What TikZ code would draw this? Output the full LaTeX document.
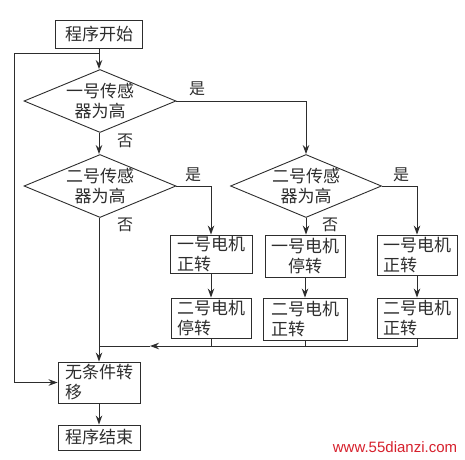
\documentclass[tikz,border=0pt]{standalone}
\usepackage{fontspec}
\newfontfamily\cjk{Noto Sans CJK SC}
\newfontfamily\wm{Liberation Sans}
\usetikzlibrary{shapes.geometric,arrows.meta}
\definecolor{wmred}{RGB}{214,32,44}
\definecolor{ink}{RGB}{45,45,45}
\begin{document}
\begin{tikzpicture}[x=1pt,y=-1pt,
  ln/.style={draw=ink,line width=0.9pt},
  arr/.style={ln,-{Stealth[length=9pt,width=6.5pt]}},
  box/.style={rectangle,draw=ink,line width=0.9pt,inner sep=0pt,
    font=\cjk\fontsize{17}{20}\selectfont,text=ink,minimum width=82pt,minimum height=40pt},
  dia/.style={diamond,aspect=2.4,draw=ink,line width=0.9pt,inner sep=-4pt,
    minimum width=152pt,minimum height=63pt,align=center,
    font=\cjk\fontsize{17}{20}\selectfont,text=ink},
  lbl/.style={font=\cjk\fontsize{16}{16}\selectfont,text=ink,inner sep=0pt}]
\useasboundingbox (0,0) rectangle (465,459);
% nodes
\node[box,minimum width=87pt,minimum height=28pt] (s) at (99,34) {程序开始};
\node[dia] (d1) at (100,101) {一号传感\\器为高};
\node[dia] (d2) at (100,186) {二号传感\\器为高};
\node[dia,minimum width=151pt] (d3) at (306,186) {二号传感\\器为高};
\node[box,align=left,minimum height=38pt] (a) at (211,254) {一号电机\\正转};
\node[box,align=center,minimum width=80pt,minimum height=42pt] (b) at (305,256) {一号电机\\停转};
\node[box,align=left,minimum width=80pt] (c) at (417,255) {一号电机\\正转};
\node[box,align=left,minimum width=80pt] (dd) at (211,318) {二号电机\\停转};
\node[box,align=left,minimum width=84pt,minimum height=42pt] (e) at (305,319) {二号电机\\正转};
\node[box,align=left,minimum width=80pt] (f) at (417,318) {二号电机\\正转};
\node[box,align=left,minimum height=41pt] (u) at (99,382.5) {无条件转\\移};
\node[box,minimum height=25pt] (t) at (99,437.5) {程序结束};
% labels
\node[lbl] (y1) at (197,89) {是};
\node[lbl] (n1) at (125,141) {否};
\node[lbl] (y2) at (193,175) {是};
\node[lbl] (n2) at (125,225) {否};
\node[lbl] (y3) at (401,175) {是};
\node[lbl] (n3) at (330,225) {否};
% coordinates
\coordinate (j0) at (99,53);
\coordinate (L) at (14,53);
\coordinate (m) at (99,346);
\coordinate (mh) at (150,346);
% connectors
\draw[arr] (s.south) -- (d1.north -| s.south);
\draw[arr] (j0) -- (L) |- (u.west);
\draw[arr] (d1.south -| s.south) -- (d2.north -| s.south);
\draw[arr] (d1.east) -| (d3.north);
\draw[arr] (d2.east) -| (a.north);
\draw[arr] (d3.east) -| (c.north);
\draw[arr] (d3.south) -- (b.north -| d3.south);
\draw[arr] (a.south) -- (dd.north);
\draw[arr] (b.south) -- (e.north);
\draw[arr] (c.south) -- (f.north);
\draw[arr] (d2.south -| s.south) -- (u.north);
\draw[ln] (dd.south) -- (dd.south |- m);
\draw[ln] (e.south) -- (e.south |- m);
\draw[arr] (f.south) |- (mh);
\draw[ln] (mh) -- (m);
\draw[arr] (u.south) -- (t.north);
% watermark
\node[font=\wm\fontsize{15}{15}\selectfont,text=wmred,inner sep=0pt] (w) at (395,447) {www.55dianzi.com};
\end{tikzpicture}
\end{document}
